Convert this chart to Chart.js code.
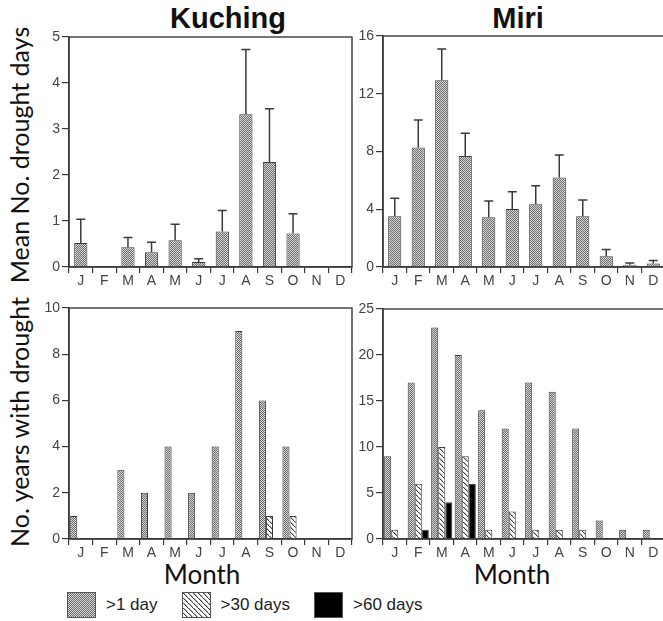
<!DOCTYPE html>
<html>
<head>
<meta charset="utf-8">
<script src="https://cdn.jsdelivr.net/npm/chart.js@4.4.1/dist/chart.umd.min.js"></script>
<style>
  html, body { margin: 0; padding: 0; background: #fff; }
  body { width: 663px; height: 621px; position: relative; overflow: hidden; }
  canvas.panel { position: absolute; }
  .title { position: absolute; top: 4px; font: bold 29px "Liberation Sans", Arial, sans-serif; line-height: 29px; color: #111; transform: translateX(-50%); white-space: nowrap; }
  .ytitle { position: absolute; font: 25px Lato, "Open Sans", sans-serif; color: #111; white-space: nowrap; transform: translate(-50%, -50%) rotate(-90deg); }
  .xtitle { position: absolute; font: 26px Lato, "Open Sans", sans-serif; color: #111; white-space: nowrap; transform: translate(-50%, -50%); }
  .legend { position: absolute; top: 592px; left: 67px; display: flex; align-items: center; font: 17px "Liberation Sans", Arial, sans-serif; color: #222; }
  .legend canvas { border: 1px solid #555; margin-right: 10px; }
  .legend span { margin-right: 24px; }
</style>
</head>
<body>
<div class="title" style="left:228px">Kuching</div>
<div class="title" style="left:518px">Miri</div>
<div class="ytitle" style="left:19px; top:155px">Mean No. drought days</div>
<div class="ytitle" style="left:19px; top:422px">No. years with drought</div>
<div class="xtitle" style="left:202px; top:574px">Month</div>
<div class="xtitle" style="left:512px; top:574px">Month</div>

<canvas class="panel" id="kuchingMeanChart"></canvas>
<canvas class="panel" id="miriMeanChart"></canvas>
<canvas class="panel" id="kuchingYearsChart"></canvas>
<canvas class="panel" id="miriYearsChart"></canvas>

<div class="legend">
  <canvas id="sw1" width="27" height="24"></canvas><span>&gt;1 day</span>
  <canvas id="sw2" width="27" height="24"></canvas><span>&gt;30 days</span>
  <canvas id="sw3" width="27" height="24"></canvas><span>&gt;60 days</span>
</div>

<script>
const months = ['J', 'F', 'M', 'A', 'M', 'J', 'J', 'A', 'S', 'O', 'N', 'D'];
const seriesNames = ['>1 day', '>30 days', '>60 days'];

// mean number of drought days per month, with upper SE
const kuchingMean = [0.52, 0, 0.43, 0.32, 0.58, 0.11, 0.77, 3.32, 2.28, 0.73, 0, 0];
const kuchingSE = [0.52, 0, 0.21, 0.22, 0.35, 0.07, 0.46, 1.41, 1.16, 0.43, 0, 0];
const miriMean = [3.52, 8.28, 12.94, 7.68, 3.45, 4.02, 4.34, 6.2, 3.52, 0.74, 0.15, 0.25];
const miriSE = [1.24, 1.9, 2.16, 1.58, 1.12, 1.2, 1.29, 1.55, 1.12, 0.48, 0.12, 0.2];

// number of years with drought of a given length
const kuchingOver1 = [1, 0, 3, 2, 4, 2, 4, 9, 6, 4, 0, 0];
const kuchingOver30 = [0, 0, 0, 0, 0, 0, 0, 0, 1, 1, 0, 0];
const kuchingOver60 = [0, 0, 0, 0, 0, 0, 0, 0, 0, 0, 0, 0];
const miriOver1 = [9, 17, 23, 20, 14, 12, 17, 16, 12, 2, 1, 1];
const miriOver30 = [1, 6, 10, 9, 1, 3, 1, 1, 1, 0, 0, 0];
const miriOver60 = [0, 1, 4, 6, 0, 0, 0, 0, 0, 0, 0, 0];

// y tick labels
const kuchingMeanTicks = [0, 1, 2, 3, 4, 5];
const miriMeanTicks = [0, 4, 8, 12, 16];
const kuchingYearsTicks = [0, 2, 4, 6, 8, 10];
const miriYearsTicks = [0, 5, 10, 15, 20, 25];

const inkColor = '#3a3a3a';
const tickFont = { family: '"Liberation Sans", Arial, sans-serif', size: 14 };

// fill patterns
function makeDotPattern() {
  const c = document.createElement('canvas');
  c.width = 2; c.height = 2;
  const g = c.getContext('2d');
  g.fillStyle = '#d6d6d6'; g.fillRect(0, 0, 2, 2);
  g.fillStyle = '#6c6c6c'; g.fillRect(0, 0, 1, 1); g.fillRect(1, 1, 1, 1);
  return g.createPattern(c, 'repeat');
}
function makeHatchPattern() {
  const c = document.createElement('canvas');
  c.width = 5; c.height = 5;
  const g = c.getContext('2d');
  g.fillStyle = '#fff'; g.fillRect(0, 0, 5, 5);
  g.fillStyle = '#444';
  for (let i = 0; i < 5; i++) g.fillRect(i, i, 1.4, 1);
  return g.createPattern(c, 'repeat');
}
const dotFill = makeDotPattern();
const hatchFill = makeHatchPattern();

// legend swatches
[[ 'sw1', dotFill ], [ 'sw2', hatchFill ], [ 'sw3', '#000' ]].forEach(([id, fill]) => {
  const g = document.getElementById(id).getContext('2d');
  g.fillStyle = fill;
  g.fillRect(0, 0, 27, 24);
});

// box around the plot area (top and right edges)
const boxPlugin = {
  id: 'box',
  afterDraw(chart) {
    const a = chart.chartArea, ctx = chart.ctx;
    ctx.save();
    ctx.strokeStyle = inkColor;
    ctx.lineWidth = 1.4;
    ctx.strokeRect(a.left, a.top, a.right - a.left, a.bottom - a.top);
    ctx.restore();
  }
};

// upper error bars with caps
const errorBarPlugin = {
  id: 'errbars',
  afterDatasetsDraw(chart, args, opts) {
    if (!opts.se) return;
    const meta = chart.getDatasetMeta(0);
    const yScale = chart.scales.y;
    const values = chart.data.datasets[0].data;
    const ctx = chart.ctx;
    ctx.save();
    ctx.strokeStyle = inkColor;
    ctx.lineWidth = 1.5;
    meta.data.forEach((bar, i) => {
      if (!opts.se[i]) return;
      const yTop = yScale.getPixelForValue(values[i] + opts.se[i]);
      ctx.beginPath();
      ctx.moveTo(bar.x, bar.y);
      ctx.lineTo(bar.x, yTop);
      ctx.moveTo(bar.x - 4.5, yTop);
      ctx.lineTo(bar.x + 4.5, yTop);
      ctx.stroke();
    });
    ctx.restore();
  }
};

function placeCanvas(id, area) {
  const el = document.getElementById(id);
  const w = area.right - area.left + 45 + 12;
  const h = area.bottom - area.top + 12 + 30;
  el.style.left = (area.left - 45) + 'px';
  el.style.top = (area.top - 12) + 'px';
  el.style.width = w + 'px';
  el.style.height = h + 'px';
  el.width = w; el.height = h;
  return el;
}

function axisOptions(yTicks) {
  return {
    x: {
      offset: true,
      border: { display: true, color: inkColor, width: 1.5 },
      grid: { display: true, offset: true, drawOnChartArea: false, drawTicks: true, tickLength: 6, color: inkColor, lineWidth: 1.2 },
      ticks: { color: '#444', font: tickFont, padding: 0, maxRotation: 0, autoSkip: false },
      afterFit(scale) { scale.height = 30; }
    },
    y: {
      min: yTicks[0],
      max: yTicks[yTicks.length - 1],
      afterBuildTicks(scale) { scale.ticks = yTicks.map(v => ({ value: v })); },
      border: { display: true, color: inkColor, width: 1.5 },
      grid: { display: true, drawOnChartArea: false, drawTicks: true, tickLength: 7, color: inkColor, lineWidth: 1.2 },
      ticks: { color: '#444', font: tickFont, padding: 2 },
      afterFit(scale) { scale.width = 45; }
    }
  };
}

function meanChart(id, area, values, se, yTicks) {
  const el = placeCanvas(id, area);
  return new Chart(el, {
    type: 'bar',
    data: {
      labels: months,
      datasets: [{
        data: values,
        backgroundColor: dotFill,
        borderColor: inkColor,
        borderWidth: 1,
        categoryPercentage: 0.56,
        barPercentage: 1
      }]
    },
    options: {
      responsive: false,
      animation: false,
      layout: { padding: { left: 0, top: 12, right: 12, bottom: 0 } },
      plugins: { legend: { display: false }, tooltip: { enabled: false }, errbars: { se: se } },
      scales: axisOptions(yTicks)
    },
    plugins: [boxPlugin, errorBarPlugin]
  });
}

function yearsChart(id, area, over1, over30, over60, yTicks) {
  const el = placeCanvas(id, area);
  const fills = [dotFill, hatchFill, '#000'];
  return new Chart(el, {
    type: 'bar',
    data: {
      labels: months,
      datasets: [over1, over30, over60].map((d, i) => ({
        label: seriesNames[i],
        data: d,
        backgroundColor: fills[i],
        borderColor: inkColor,
        borderWidth: 1,
        categoryPercentage: 0.9,
        barPercentage: 1
      }))
    },
    options: {
      responsive: false,
      animation: false,
      layout: { padding: { left: 0, top: 12, right: 12, bottom: 0 } },
      plugins: { legend: { display: false }, tooltip: { enabled: false } },
      scales: axisOptions(yTicks)
    },
    plugins: [boxPlugin]
  });
}

meanChart('kuchingMeanChart', { left: 69, right: 352, top: 37, bottom: 267 }, kuchingMean, kuchingSE, kuchingMeanTicks);
meanChart('miriMeanChart', { left: 383, right: 665, top: 36, bottom: 267 }, miriMean, miriSE, miriMeanTicks);
yearsChart('kuchingYearsChart', { left: 69, right: 352, top: 308, bottom: 539 }, kuchingOver1, kuchingOver30, kuchingOver60, kuchingYearsTicks);
yearsChart('miriYearsChart', { left: 383, right: 665, top: 309, bottom: 539 }, miriOver1, miriOver30, miriOver60, miriYearsTicks);
</script>
</body>
</html>
